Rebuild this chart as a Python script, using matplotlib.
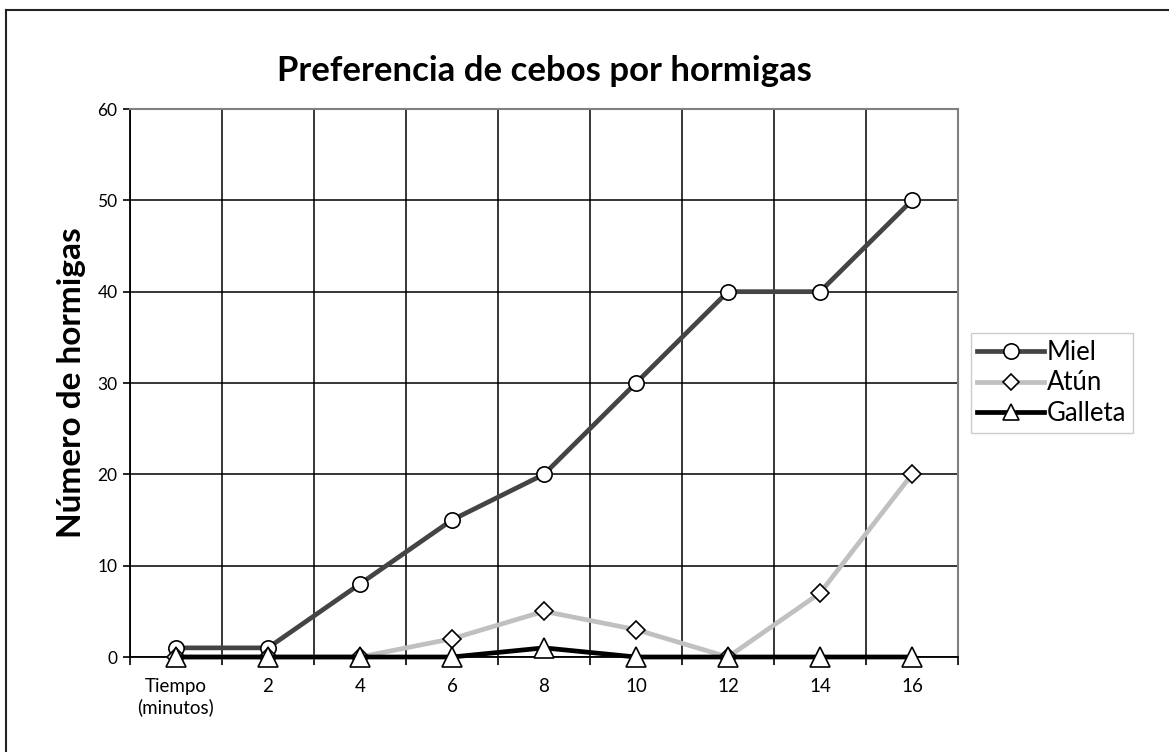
import matplotlib.pyplot as plt
from matplotlib.lines import Line2D

plt.rcParams['font.family'] = ['Lato', 'DejaVu Sans']

# data
categories = ['Tiempo\n(minutos)', '2', '4', '6', '8', '10', '12', '14', '16']
miel = [1, 1, 8, 15, 20, 30, 40, 40, 50]
atun = [0, 0, 0, 2, 5, 3, 0, 7, 20]
galleta = [0, 0, 0, 0, 1, 0, 0, 0, 0]
y_ticks = [0, 10, 20, 30, 40, 50, 60]

fig = plt.figure(figsize=(11.69, 7.52), dpi=100)
ax = fig.add_axes([130 / 1169, 1 - 657 / 752, 828 / 1169, 548 / 752])

x = list(range(len(categories)))
ax.plot(x, miel, color='#444444', lw=3.4, marker='o', ms=11,
        mfc='white', mec='black', mew=1.2, label='Miel', zorder=3)
ax.plot(x, atun, color='#c0c0c0', lw=3.4, marker='D', ms=9.5,
        mfc='white', mec='black', mew=1.2, label='Atún', zorder=4)
ax.plot(x, galleta, color='black', lw=3.4, marker='^', ms=14,
        mfc='white', mec='black', mew=1.2, label='Galleta', zorder=5)
for line in ax.lines:
    line.set_clip_on(False)

ax.set_xlim(-0.5, len(categories) - 0.5)
ax.set_ylim(0, 60)
ax.set_xticks(x)
ax.set_xticklabels(categories, fontsize=13.5, linespacing=1.25)
ax.tick_params(axis='x', which='major', length=0, pad=15)
ax.set_xticks([i - 0.5 for i in range(len(categories) + 1)], minor=True)
ax.tick_params(axis='x', which='minor', length=6, width=1.2, direction='out')
ax.set_yticks(y_ticks)
ax.tick_params(axis='y', labelsize=12.5, length=5, width=1.2, direction='out', pad=4)

ax.grid(True, which='minor', axis='x', color='black', lw=1.1)
ax.grid(True, which='major', axis='y', color='black', lw=1.1)
ax.set_axisbelow(True)

for side in ['left', 'bottom']:
    ax.spines[side].set_color('black')
    ax.spines[side].set_linewidth(1.3)
for side in ['top', 'right']:
    ax.spines[side].set_color('#808080')
    ax.spines[side].set_linewidth(1.5)

ax.set_title('Preferencia de cebos por hormigas', fontsize=25,
             fontweight='bold', pad=20)
ax.set_ylabel('Número de hormigas', fontsize=24, fontweight='bold', labelpad=8)

handles = [
    Line2D([], [], color='#444444', lw=3.4, marker='o', ms=11, mfc='white',
           mec='black', mew=1.2),
    Line2D([], [], color='#c0c0c0', lw=3.4, marker='D', ms=8, mfc='white',
           mec='black', mew=1.2),
    Line2D([], [], color='black', lw=3.4, marker='^', ms=11, mfc='white',
           mec='black', mew=1.2),
]
leg = fig.legend(handles, ['Miel', 'Atún', 'Galleta'], loc='center left',
                 bbox_to_anchor=(971 / 1169, 1 - 383 / 752), fontsize=18.5,
                 frameon=True, fancybox=False, handlelength=2.6,
                 handletextpad=0.1, borderpad=0.25, labelspacing=0.22,
                 borderaxespad=0)
leg.get_frame().set_edgecolor('#c0c0c0')
leg.get_frame().set_linewidth(1)

# outer chart frame (top and left only visible)
fig.add_artist(Line2D([6 / 1169, 6 / 1169], [0, 1 - 10 / 752],
                      color='#222222', lw=1.5, transform=fig.transFigure))
fig.add_artist(Line2D([6 / 1169, 1], [1 - 10 / 752, 1 - 10 / 752],
                      color='#222222', lw=1.5, transform=fig.transFigure))

fig.savefig('out.png', dpi=100)
